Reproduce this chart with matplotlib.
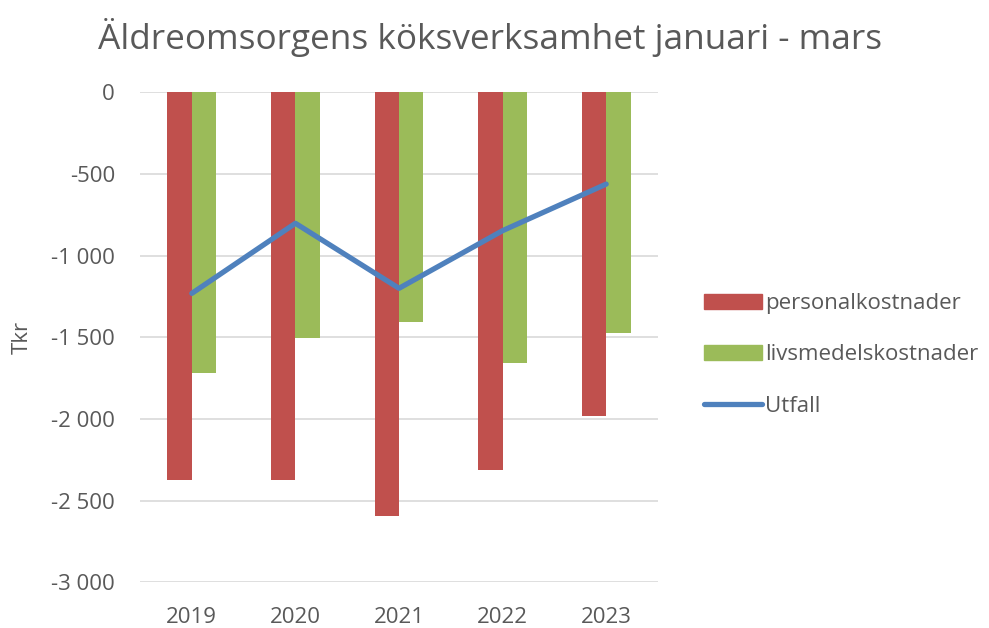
import numpy as np
import matplotlib
matplotlib.use('Agg')
import matplotlib.pyplot as plt
from matplotlib.patches import Patch
from matplotlib.lines import Line2D

plt.rcParams['font.family'] = ['Open Sans', 'DejaVu Sans']

# data (Tkr)
years = ['2019', '2020', '2021', '2022', '2023']
personal = [-2376, -2376, -2593, -2315, -1982]
livsmedel = [-1717, -1503, -1408, -1660, -1476]
utfall = [-1231, -802, -1200, -847, -562]

red = '#C0504D'
green = '#9BBB59'
blue = '#4F81BD'
grey = '#595959'

fig = plt.figure(figsize=(9.89, 6.28), dpi=100)
ax = fig.add_axes([0.1416, 0.0728, 0.5237, 0.7802])

x = np.arange(len(years))
w = 0.235
ax.bar(x - w / 2, personal, w, color=red, zorder=2)
ax.bar(x + w / 2, livsmedel, w, color=green, zorder=2)
ax.plot(x, utfall, color=blue, lw=3.8, solid_capstyle='round', zorder=3)

ax.set_xlim(-0.5, 4.5)
ax.set_ylim(-3000, 0)
yt = np.arange(-3000, 1, 500)
ax.set_yticks(yt)
ax.set_yticklabels([f'{v:,}'.replace(',', ' ') for v in yt])
ax.set_xticks(x)
ax.set_xticklabels(years)
ax.tick_params(length=0, labelsize=16, colors=grey)
ax.tick_params(axis='y', pad=18)
ax.tick_params(axis='x', pad=18)
ax.grid(axis='y', color='#D9D9D9', lw=1.2, zorder=0)
for s in ax.spines.values():
    s.set_visible(False)

fig.text(0.022, 0.462, 'Tkr', rotation=90, ha='center', va='center',
         fontsize=16, color=grey)

fig.text(0.496, 0.94, 'Äldreomsorgens köksverksamhet januari - mars',
         ha='center', va='center', fontsize=25.3, color=grey)

handles = [Patch(color=red), Patch(color=green), Line2D([], [], color=blue, lw=3.8, solid_capstyle='round')]
labels = ['personalkostnader', 'livsmedelskostnader', 'Utfall']
leg = fig.legend(handles, labels, loc='center left', bbox_to_anchor=(0.692, 0.435),
                 frameon=False, fontsize=16, handlelength=2.6, handleheight=0.63,
                 handletextpad=0.15, labelspacing=1.36, labelcolor=grey)

fig.savefig('out.png', dpi=100)
